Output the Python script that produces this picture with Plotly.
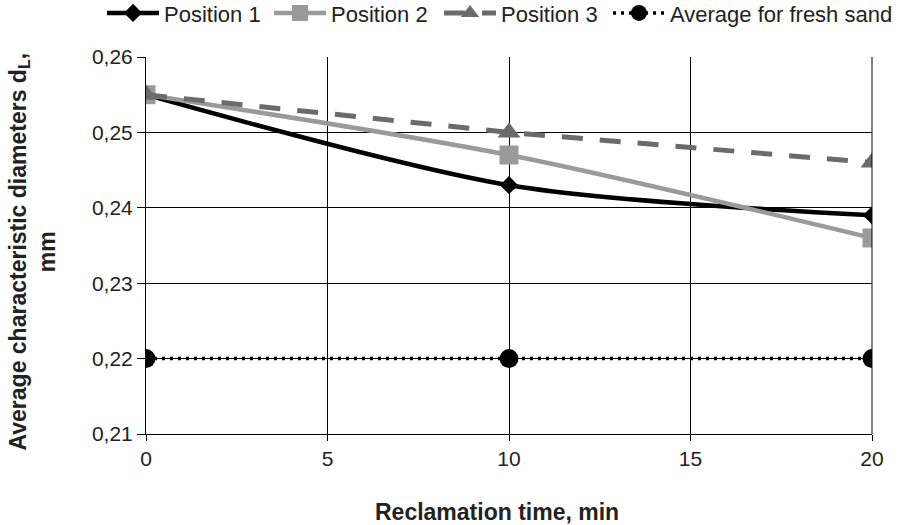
import plotly.graph_objects as go

time_min = [0, 10, 20]
position_1 = [0.255, 0.243, 0.239]
position_2 = [0.255, 0.247, 0.236]
position_3 = [0.255, 0.250, 0.246]
fresh_sand = [0.220, 0.220, 0.220]

x_ticks = [0, 5, 10, 15, 20]
y_ticks = [0.21, 0.22, 0.23, 0.24, 0.25, 0.26]
y_tick_labels = ["0,21", "0,22", "0,23", "0,24", "0,25", "0,26"]

fig = go.Figure()
fig.add_trace(go.Scatter(
    x=time_min, y=position_1, name="Position 1", mode="lines+markers", legend="legend",
    line=dict(color="#000000", width=4.5, shape="spline", smoothing=0.8),
    marker=dict(symbol="diamond", size=14, color="#000000")))
fig.add_trace(go.Scatter(
    x=time_min, y=position_2, name="Position 2", mode="lines+markers", legend="legend2",
    line=dict(color="#9a9a9a", width=4.5, shape="spline", smoothing=0.8),
    marker=dict(symbol="square", size=19, color="#9a9a9a")))
fig.add_trace(go.Scatter(
    x=time_min, y=position_3, name="Position 3", mode="lines+markers", legend="legend3",
    line=dict(color="#6b6b6b", width=5, dash="21px,17px"),
    marker=dict(symbol="triangle-up", size=20, color="#6b6b6b")))
fig.add_trace(go.Scatter(
    x=time_min, y=fresh_sand, name="Average for fresh sand", mode="lines+markers",
    legend="legend4",
    line=dict(color="#000000", width=3.5, dash="3px,5px"),
    marker=dict(symbol="circle", size=19, color="#000000")))


def legend_box(x, anchor="left"):
    return dict(orientation="h", xref="container", yref="paper",
                x=x, xanchor=anchor, y=1.172, yanchor="top",
                font=dict(size=22), itemwidth=52, bgcolor="rgba(0,0,0,0)")


fig.update_layout(
    width=898, height=525,
    margin=dict(l=146, r=26, t=57, b=91, autoexpand=False),
    paper_bgcolor="white", plot_bgcolor="white",
    font=dict(family="Liberation Sans, Arial, sans-serif", size=21, color="#222222"),
    showlegend=True,
    legend=legend_box(0.1136),
    legend2=legend_box(0.2996),
    legend3=legend_box(0.4889),
    legend4=legend_box(1.0, "right"),
)

fig.update_xaxes(
    range=[0, 20], tickvals=x_ticks, ticktext=[str(v) for v in x_ticks],
    showgrid=True, gridcolor="#000000", gridwidth=1,
    showline=True, linecolor="#000000", linewidth=1,
    ticks="outside", ticklen=6, tickcolor="#000000",
    zeroline=False, automargin=False, tickfont=dict(size=21),
)
fig.update_yaxes(
    range=[0.21, 0.26], tickvals=y_ticks, ticktext=y_tick_labels,
    showgrid=True, gridcolor="#000000", gridwidth=1,
    showline=True, linecolor="#000000", linewidth=1,
    ticks="outside", ticklen=8, tickcolor="#000000",
    zeroline=False, automargin=False, tickfont=dict(size=21),
)
fig.add_annotation(
    text="<b>Average characteristic diameters d<sub>L</sub>,<br>mm</b>",
    xref="paper", yref="paper", x=0, y=0.5, xshift=-114, yshift=-6,
    xanchor="center", yanchor="middle", textangle=-90, showarrow=False,
    font=dict(size=23, color="#222222"))
fig.add_annotation(
    text="<b>Reclamation time, min</b>", xref="paper", yref="paper",
    x=0.4835, y=0, yshift=-78, xanchor="center", yanchor="middle",
    showarrow=False, font=dict(size=23, color="#222222"))
fig.add_shape(type="line", xref="paper", yref="paper", x0=1, x1=1, y0=0, y1=1,
              line=dict(color="#000000", width=1))

fig.write_html("out.html", config={"displayModeBar": False},
               post_script="document.body.style.margin='0';")
